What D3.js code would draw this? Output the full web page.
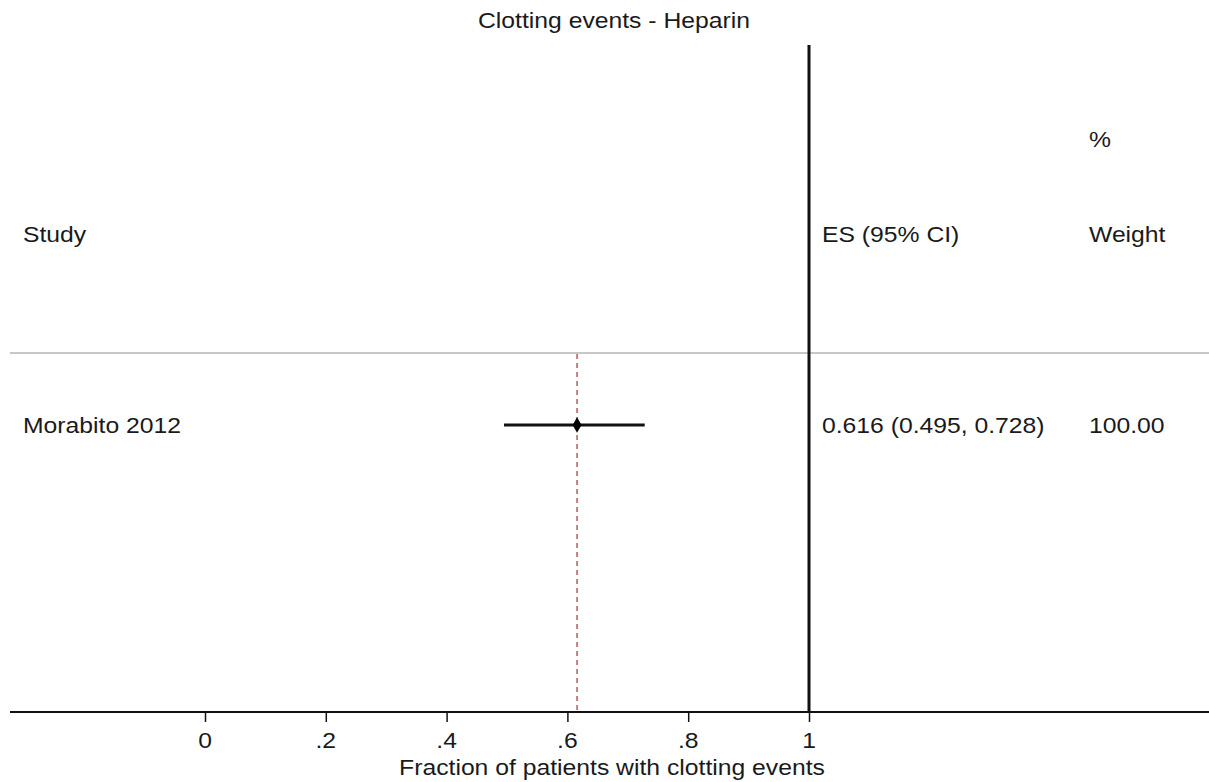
<!DOCTYPE html>
<html><head><meta charset="utf-8">
<script src="https://cdn.jsdelivr.net/npm/d3@7"></script>
<style>body{margin:0;background:#fff}svg{display:block}</style>
</head><body>
<svg id="c" width="1209" height="782"></svg>
<script>
const studies = ["Morabito 2012"];
const es = [0.616];
const ciLow = [0.495];
const ciHigh = [0.728];
const weights = ["100.00"];
const esLabels = ["0.616 (0.495, 0.728)"];
const pooled = 0.616;
const tickValues = [0, 0.2, 0.4, 0.6, 0.8, 1];
const tickLabels = ["0", ".2", ".4", ".6", ".8", "1"];
const title = "Clotting events - Heparin";
const xTitle = "Fraction of patients with clotting events";

const svg = d3.select("#c");
const font = "Liberation Sans, Arial, sans-serif";
const txt = "#1a1a1a";
const fs = 21.5, sx = 1.15;
const x = d3.scaleLinear().domain([0, 1]).range([205, 809]);
const y = d3.scaleBand().domain(studies).range([353, 497]);
const axisY = 712;

function label(t, px, py, anchor) {
  svg.append("text").attr("transform", `translate(${px},${py}) scale(${sx},1)`)
    .attr("text-anchor", anchor || "start").attr("font-family", font)
    .attr("font-size", fs).attr("fill", txt).text(t);
}

label(title, 614, 28, "middle");
label("Study", 23, 242);
label("ES (95% CI)", 822, 242);
label("Weight", 1089, 242);
label("%", 1089, 147);

// gray separator
svg.append("line").attr("x1", 10).attr("x2", 1209).attr("y1", 353).attr("y2", 353)
  .attr("stroke", "#c8c8c8").attr("stroke-width", 2);

// null line
svg.append("line").attr("x1", x(1)).attr("x2", x(1)).attr("y1", 45).attr("y2", axisY)
  .attr("stroke", "#111").attr("stroke-width", 3);

// pooled dashed line
svg.append("line").attr("x1", x(pooled)).attr("x2", x(pooled)).attr("y1", 354).attr("y2", axisY)
  .attr("stroke", "#a8404c").attr("stroke-width", 1.3).attr("stroke-dasharray", "5,4");

// rows
studies.forEach((s, i) => {
  const cy = y(s) + y.bandwidth() / 2;
  label(s, 23, cy + 8);
  label(esLabels[i], 822, cy + 8);
  label(weights[i], 1089, cy + 8);
  svg.append("line").attr("x1", x(ciLow[i])).attr("x2", x(ciHigh[i])).attr("y1", cy).attr("y2", cy)
    .attr("stroke", "#111").attr("stroke-width", 3);
  svg.append("path").attr("transform", `translate(${x(es[i])},${cy})`)
    .attr("d", d3.symbol().type(d3.symbolDiamond).size(70)).attr("fill", "#000");
});

// x axis
const ax = svg.append("g").attr("transform", `translate(0,${axisY})`)
  .call(d3.axisBottom(x).tickValues(tickValues).tickFormat(() => "").tickSize(10));
ax.select(".domain").remove();
ax.selectAll(".tick line").attr("stroke", "#111").attr("stroke-width", 1.5);
tickValues.forEach((v, i) => label(tickLabels[i], x(v), 748, "middle"));
svg.append("line").attr("x1", 10).attr("x2", 1209).attr("y1", axisY).attr("y2", axisY)
  .attr("stroke", "#111").attr("stroke-width", 2);

label(xTitle, 612, 775, "middle");
</script>
</body></html>
